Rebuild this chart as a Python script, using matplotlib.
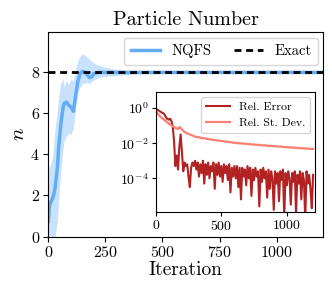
import numpy as np
import matplotlib
matplotlib.use("Agg")
import matplotlib.pyplot as plt

plt.rcParams['font.family'] = 'serif'
plt.rcParams['font.serif'] = ['cmr10']
plt.rcParams['mathtext.fontset'] = 'cm'
plt.rcParams['axes.formatter.use_mathtext'] = True

# main panel: NQFS particle number (mean and band)
it_main = [0, 5, 10, 20, 25, 30, 40, 45, 50, 55, 60, 65, 70, 80, 90, 100, 110, 120, 130, 140,
           150, 160, 170, 180, 190, 200, 220, 250, 300, 350, 400, 500, 600, 800, 1000, 1200]
n_mean = [0.75, 1.5, 1.65, 1.9, 2.1, 2.4, 3.4, 4.3, 4.9, 5.5, 5.9, 6.3, 6.5, 6.55, 6.4, 6.3, 6.1, 6.9,
          7.6, 7.95, 8.05, 8.02, 7.9, 7.75, 7.78, 7.95, 8.0, 8.0, 8.0, 8.0, 8.0, 8.0, 8.0, 8.0, 8.0, 8.0]
n_hi = [3.4, 3.4, 3.5, 4.0, 4.7, 5.3, 6.2, 6.8, 7.2, 7.6, 7.5, 7.7, 7.3, 7.6, 7.4, 7.7, 7.6, 8.2,
        8.6, 8.8, 8.9, 8.85, 8.75, 8.65, 8.55, 8.45, 8.35, 8.25, 8.15, 8.1, 8.08, 8.05, 8.04, 8.03, 8.02, 8.02]
n_lo = [0.0, 0.0, 0.0, 0.0, 0.0, 0.0, 0.8, 1.6, 2.5, 3.2, 3.8, 4.3, 4.7, 4.9, 5.0, 5.0, 5.3, 6.3,
        7.0, 7.3, 7.45, 7.5, 7.5, 7.45, 7.55, 7.65, 7.75, 7.8, 7.85, 7.9, 7.92, 7.95, 7.96, 7.97, 7.98, 7.98]
n_exact = 8

# inset: relative error and relative standard deviation (log10), every 10 iterations
it_inset = list(range(0, 1201, 10))
log_rel_err = [
    -0.02, -0.08, -0.12, -0.18, -0.22, -0.27, -0.3, -0.4, -0.55, -0.62, -0.66, -0.6, -0.75, -1.05,
    -1.9, -3.3, -2.7, -3.5, -2.2, -1.5, -2.5, -3.6, -3.1, -3.3, -3.2, -3.9, -4.5, -3.4, -3.1, -3.3, -3.0,
    -3.5, -3.1, -3.9, -3.2, -3.7, -3.0, -4.3, -3.2, -3.8, -3.1, -4.0, -3.3, -3.6, -3.1, -4.6,
    -3.2, -3.8, -3.1, -3.9, -3.3, -4.2, -3.2, -3.7, -3.3, -4.1, -3.2, -4.8, -3.4, -3.9, -3.3,
    -4.0, -3.3, -4.5, -3.4, -5.2, -3.4, -3.9, -3.5, -4.4, -3.3, -4.0, -3.4, -5.0, -3.5, -4.1,
    -3.4, -3.9, -3.6, -5.6, -3.5, -4.2, -3.4, -4.0, -3.6, -5.1, -3.5, -4.6, -3.6, -4.0, -5.8,
    -3.6, -4.3, -3.7, -5.3, -3.6, -4.1, -3.5, -6.2, -3.7, -4.4, -3.6, -4.0, -5.5, -3.7, -4.2,
    -3.6, -6.0, -3.8, -4.3, -3.6, -5.2, -3.7, -4.1, -6.3, -3.6, -4.3, -3.8, -4.6, -5.7, -3.8]
log_rel_sd = [
    -0.12, -0.25, -0.36, -0.45, -0.52, -0.58, -0.64, -0.7, -0.76, -0.82, -0.88, -0.93, -0.98, -1.03,
    -1.08, -1.13, -1.16, -1.2, -1.08, -1.12, -1.22, -1.3, -1.36, -1.4, -1.44, -1.47, -1.5, -1.53, -1.56, -1.6, -1.63,
    -1.64, -1.66, -1.65, -1.69, -1.7, -1.72, -1.71, -1.74, -1.76, -1.75, -1.78, -1.79, -1.8, -1.82, -1.81,
    -1.84, -1.85, -1.84, -1.87, -1.88, -1.87, -1.9, -1.91, -1.9, -1.93, -1.94, -1.93, -1.96, -1.97, -1.98,
    -1.97, -2.0, -1.99, -2.01, -2.02, -2.0, -2.03, -2.04, -2.02, -2.05, -2.06, -2.04, -2.07, -2.08, -2.06,
    -2.09, -2.1, -2.08, -2.11, -2.1, -2.12, -2.13, -2.11, -2.14, -2.13, -2.15, -2.16, -2.14, -2.17, -2.16,
    -2.18, -2.17, -2.19, -2.2, -2.18, -2.21, -2.2, -2.22, -2.23, -2.21, -2.24, -2.23, -2.25, -2.24, -2.26,
    -2.25, -2.27, -2.26, -2.28, -2.27, -2.29, -2.28, -2.3, -2.29, -2.31, -2.3, -2.32, -2.31, -2.33, -2.32]

blue = '#63adf7'

fig = plt.figure(figsize=(3.32, 2.92), dpi=100)
ax = fig.add_axes([0.1455, 0.19, 0.8285, 0.699])
ax.fill_between(it_main, n_lo, n_hi, color=blue, alpha=0.35, lw=0)
ax.plot(it_main, n_mean, color=blue, lw=2.5, label='NQFS')
ax.axhline(n_exact, color='k', lw=2, dashes=(2.5, 1.7), label='Exact')
ax.set_xlim(0, 1205)
ax.set_ylim(0, 9.95)
ax.set_xticks([0, 250, 500, 750, 1000])
ax.set_yticks([0, 2, 4, 6, 8])
ax.tick_params(labelsize=11.5, length=3.5, width=0.8, pad=2.5)
ax.set_xlabel('Iteration', fontsize=14, labelpad=1)
ax.set_ylabel('$n$', fontsize=15, labelpad=2)
ax.set_title('Particle Number', fontsize=14.5, pad=5)
ax.legend(loc='upper right', ncol=2, fontsize=10.5, borderaxespad=0.35, handlelength=2.0,
          columnspacing=1.5, borderpad=0.45)

ins = fig.add_axes([0.469, 0.275, 0.48, 0.409])
ins.plot(it_inset, 10.0 ** np.array(log_rel_err), color='#b22222', lw=1.5, label='Rel. Error')
ins.plot(it_inset, 10.0 ** np.array(log_rel_sd), color='#fa8072', lw=1.6, label='Rel. St. Dev.')
ins.set_yscale('log')
ins.set_xlim(0, 1215)
ins.set_ylim(10 ** -5.9, 10 ** 0.9)
ins.set_xticks([0, 500, 1000])
ins.set_yticks([1, 1e-2, 1e-4])
ins.minorticks_off()
ins.tick_params(labelsize=10, length=3, width=0.8, pad=2)
ins.legend(loc='upper right', fontsize=8.5, borderaxespad=0.4, handlelength=2.0)

fig.savefig('out.png', dpi=100)
